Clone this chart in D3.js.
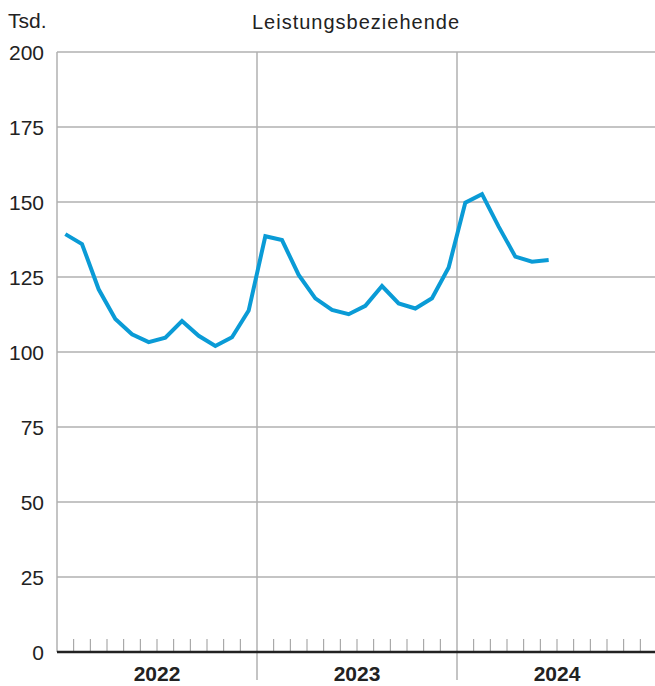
<!DOCTYPE html>
<html><head><meta charset="utf-8">
<script src="https://cdn.jsdelivr.net/npm/d3@7"></script>
<style>body{margin:0;background:#fff}svg{display:block}text{font-family:"Liberation Sans",Arial,sans-serif;fill:#222}</style>
</head><body><svg id="c" width="655" height="686"></svg>
<script>
const years = ["2022","2023","2024"];
const yTicks = [0,25,50,75,100,125,150,175,200];
const values = [
  139.3,136.0,120.9,111.0,105.9,103.3,104.8,110.3,105.4,102.0,104.9,113.8,
  138.6,137.3,125.7,117.9,114.0,112.6,115.4,122.0,116.2,114.5,117.9,128.2,
  149.8,152.6,141.8,131.8,130.1,130.7
];
const title = "Leistungsbeziehende";
const unit = "Tsd.";

const svg = d3.select("#c");
const L = 57, R = 657, T = 52, B = 652;
const x = d3.scaleLinear().domain([0, 36]).range([L, R]);
const y = d3.scaleLinear().domain([0, 200]).range([B, T]);

svg.append("g").selectAll("line").data(yTicks.filter(d=>d>0)).join("line")
  .attr("x1", L).attr("x2", 655).attr("y1", d=>y(d)).attr("y2", d=>y(d))
  .attr("stroke", "#b0b0b0").attr("stroke-width", 1.5);
svg.append("line").attr("x1", L).attr("x2", L).attr("y1", T).attr("y2", B)
  .attr("stroke", "#b0b0b0").attr("stroke-width", 1.5);
svg.append("g").selectAll("line").data([12, 24]).join("line")
  .attr("x1", d=>x(d)).attr("x2", d=>x(d)).attr("y1", T).attr("y2", 680)
  .attr("stroke", "#b0b0b0").attr("stroke-width", 1.5);
svg.append("g").selectAll("line").data(d3.range(1, 36).filter(d=>d%12!==0)).join("line")
  .attr("x1", d=>x(d)).attr("x2", d=>x(d)).attr("y1", B-13).attr("y2", B)
  .attr("stroke", "#999").attr("stroke-width", 1);
svg.append("line").attr("x1", L).attr("x2", 655).attr("y1", B).attr("y2", B)
  .attr("stroke", "#222").attr("stroke-width", 2.5);

svg.append("g").selectAll("text").data(yTicks).join("text")
  .attr("x", 44).attr("y", d=>y(d)).attr("dy", "0.36em")
  .attr("text-anchor", "end").attr("font-size", 21).text(d=>d);
svg.append("g").selectAll("text").data(years).join("text")
  .attr("x", (d,i)=>x(i*12+6)).attr("y", 681)
  .attr("text-anchor", "middle").attr("font-size", 21).attr("font-weight", "bold").text(d=>d);

svg.append("text").attr("x", 8).attr("y", 28).attr("font-size", 21).text(unit);
svg.append("text").attr("x", 356).attr("y", 29).attr("text-anchor", "middle")
  .attr("font-size", 20).attr("letter-spacing", 1).text(title);

const line = d3.line().x((d,i)=>x(i+0.5)).y(d=>y(d));
svg.append("path").datum(values).attr("d", line)
  .attr("fill", "none").attr("stroke", "#0a9bd6").attr("stroke-width", 4)
  .attr("stroke-linejoin", "miter");
</script></body></html>
